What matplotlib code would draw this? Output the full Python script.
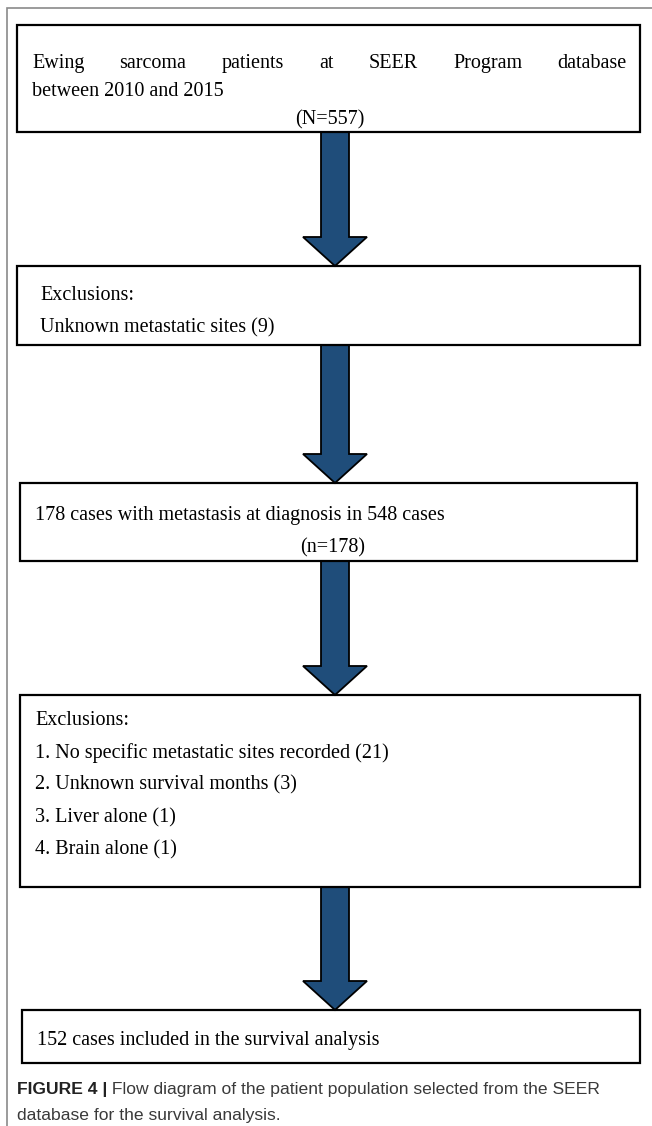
import matplotlib
matplotlib.use('Agg')
import matplotlib.pyplot as plt
from matplotlib.patches import Rectangle, FancyArrow

# Flow diagram content
box1_line1 = ['Ewing', 'sarcoma', 'patients', 'at', 'SEER', 'Program', 'database']
box1_line2 = 'between 2010 and 2015'
box1_count = '(N=557)'
box2_lines = ['Exclusions:', 'Unknown metastatic sites (9)']
box3_line = '178 cases with metastasis at diagnosis in 548 cases'
box3_count = '(n=178)'
box4_lines = ['Exclusions:',
              '1. No specific metastatic sites recorded (21)',
              '2. Unknown survival months (3)',
              '3. Liver alone (1)',
              '4. Brain alone (1)']
box5_line = '152 cases included in the survival analysis'
caption_bold = 'FIGURE 4 |'
caption_rest = ' Flow diagram of the patient population selected from the SEER'
caption_line2 = 'database for the survival analysis.'

# layout in pixels (x0, x1, y0, y1)
boxes = [(17, 640, 25, 132), (17, 640, 266, 345), (20, 637, 483, 561),
         (20, 640, 695, 887), (22, 640, 1010, 1063)]
arrow_color = '#1f4d7a'
serif = ['Liberation Serif', 'DejaVu Serif']
sans = ['Liberation Sans Narrow', 'Liberation Sans', 'DejaVu Sans']
fs = 14.5
cfs = 12.6
va = 'center_baseline'

W, H = 652, 1126
fig = plt.figure(figsize=(W / 100, H / 100), dpi=100)
ax = fig.add_axes([0, 0, 1, 1])
ax.set_xlim(0, W)
ax.set_ylim(H, 0)
ax.axis('off')

# outer frame (left and top only)
ax.plot([7, 7, W], [H, 8, 8], color='#8a8a8a', lw=1.2, solid_joinstyle='miter')

for x0, x1, y0, y1 in boxes:
    ax.add_patch(Rectangle((x0, y0), x1 - x0, y1 - y0, fill=False,
                           ec='black', lw=1.6, zorder=3))

# arrows between boxes
for i in range(len(boxes) - 1):
    top = boxes[i][3]
    bot = boxes[i + 1][2]
    ax.add_patch(FancyArrow(335, top, 0, bot - top, width=28, head_width=64,
                            head_length=29, length_includes_head=True,
                            fc=arrow_color, ec='black', lw=1.3, zorder=2))

fig.canvas.draw()
renderer = fig.canvas.get_renderer()
inv = ax.transData.inverted()


def width_of(t):
    bb = t.get_window_extent(renderer)
    p0 = inv.transform((bb.x0, bb.y0))
    p1 = inv.transform((bb.x1, bb.y1))
    return p1[0] - p0[0]


# justified first line of box 1
words = [ax.text(0, 61, w, fontsize=fs, family=serif, va=va, ha='left')
         for w in box1_line1]
widths = [width_of(t) for t in words]
left, right = 32, 627
gap = (right - left - sum(widths)) / (len(words) - 1)
x = left
for t, w in zip(words, widths):
    t.set_x(x)
    x += w + gap

ax.text(32, 89, box1_line2, fontsize=fs, family=serif, va=va)
ax.text(330, 117, box1_count, fontsize=fs, family=serif, va=va, ha='center')

for i, line in enumerate(box2_lines):
    ax.text(40, 293 + i * 32, line, fontsize=fs, family=serif, va=va)

ax.text(35, 513, box3_line, fontsize=fs, family=serif, va=va)
ax.text(333, 545, box3_count, fontsize=fs, family=serif, va=va, ha='center')

for i, line in enumerate(box4_lines):
    ax.text(35, 718 + i * 32.3, line, fontsize=fs, family=serif, va=va)

ax.text(37, 1038, box5_line, fontsize=fs, family=serif, va=va)

# caption
cb = ax.text(17, 1088, caption_bold, fontsize=cfs, family=sans, weight='bold',
             color='#222222', va=va)
ax.text(17 + width_of(cb), 1088, caption_rest, fontsize=cfs, family=sans,
        color='#3a3a3a', va=va)
ax.text(17, 1114, caption_line2, fontsize=cfs, family=sans, color='#3a3a3a',
        va=va)

fig.savefig('out.png', dpi=100)
